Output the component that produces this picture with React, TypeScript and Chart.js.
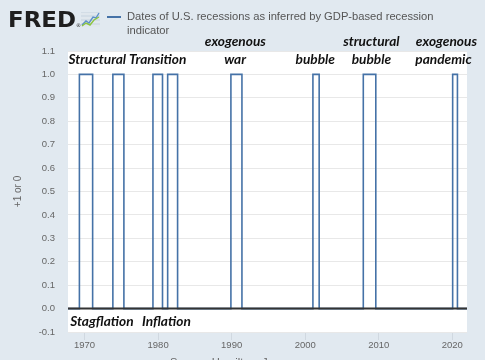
import React, { useEffect, useRef } from 'react';
import { Chart, registerables } from 'chart.js';

Chart.register(...registerables);

// Recession indicator: value holds from each transition date until the next one
const transitionYears = [1967.75, 1969.3, 1971.1, 1973.85, 1975.35, 1979.3, 1980.6, 1981.3, 1982.65, 1989.9, 1991.4, 2001.05, 2001.9, 2007.9, 2009.6, 2020.05, 2020.7, 2022.0];
const transitionValues = [0, 1, 0, 1, 0, 1, 0, 1, 0, 1, 0, 1, 0, 1, 0, 1, 0, 0];

const xTickYears = [1970, 1980, 1990, 2000, 2010, 2020];
const yTickValues = [-0.1, 0, 0.1, 0.2, 0.3, 0.4, 0.5, 0.6, 0.7, 0.8, 0.9, 1.0, 1.1];

const seriesLabel = 'Dates of U.S. recessions as inferred by GDP-based recession indicator';
const titleLines = ['Dates of U.S. recessions as inferred by GDP-based recession', 'indicator'];
const yAxisTitle = '+1 or 0';
const sourceText = 'Source: Hamilton, James';

// annotation texts with the year they are centered on
const topRowTexts = ['exogenous', 'structural', 'exogenous'];
const topRowYears = [1990.5, 2009.0, 2019.2];
const secondRowTexts = ['war', 'bubble', 'bubble', 'pandemic'];
const secondRowYears = [1990.47, 2001.37, 2009.0, 2018.8];
const leftTopText = 'Structural Transition';
const bottomTexts = ['Stagflation', 'Inflation'];
const bottomYears = [1968.05, 1977.81];

const BG = '#e1e9f0';
const LINE = '#4572A7';
const ANN_FONT = 'italic bold 13.7px Lato, "Open Sans", sans-serif';

const decorPlugin = {
  id: 'decor',
  beforeDraw(chart: any) {
    const { ctx, chartArea } = chart;
    ctx.save();
    ctx.fillStyle = BG;
    ctx.fillRect(0, 0, chart.width, chart.height);
    ctx.fillStyle = '#ffffff';
    ctx.fillRect(chartArea.left, chartArea.top, chartArea.right - chartArea.left, chartArea.bottom - chartArea.top);
    ctx.restore();
  },
  afterDatasetsDraw(chart: any) {
    const { ctx, chartArea, scales } = chart;
    const y0 = scales.y.getPixelForValue(0);
    ctx.save();
    ctx.strokeStyle = '#333333';
    ctx.lineWidth = 2;
    ctx.beginPath();
    ctx.moveTo(chartArea.left, y0);
    ctx.lineTo(chartArea.right, y0);
    ctx.stroke();
    ctx.restore();
  },
  afterDraw(chart: any) {
    const { ctx, chartArea, scales } = chart;
    const xs = scales.x;
    ctx.save();
    // FRED logo
    ctx.fillStyle = '#1f1f1f';
    ctx.font = 'bold 21px "DejaVu Sans", sans-serif';
    ctx.textBaseline = 'alphabetic';
    ctx.textAlign = 'left';
    const w = ctx.measureText('FRED').width;
    ctx.save();
    ctx.translate(8, 26.7);
    ctx.scale(68 / w, 1);
    ctx.fillText('FRED', 0, 0);
    ctx.restore();
    ctx.font = '5px "DejaVu Sans", sans-serif';
    ctx.fillText('®', 76, 27);
    // icon
    ctx.fillStyle = '#d3dde6';
    ctx.fillRect(81, 12, 19, 15);
    ctx.strokeStyle = '#ffffff';
    ctx.lineWidth = 0.6;
    for (let i = 0; i < 4; i++) {
      ctx.beginPath();
      ctx.moveTo(81, 14 + i * 4);
      ctx.lineTo(100, 14 + i * 4);
      ctx.stroke();
    }
    ctx.lineWidth = 1.4;
    ctx.strokeStyle = '#5b8fc9';
    ctx.beginPath();
    ctx.moveTo(82, 25); ctx.lineTo(86, 21); ctx.lineTo(89, 23); ctx.lineTo(93, 17); ctx.lineTo(96, 18); ctx.lineTo(99, 13);
    ctx.stroke();
    ctx.strokeStyle = '#8cc43f';
    ctx.beginPath();
    ctx.moveTo(82, 26); ctx.lineTo(86, 23); ctx.lineTo(90, 25); ctx.lineTo(94, 20); ctx.lineTo(99, 17);
    ctx.stroke();

    // legend line + title
    ctx.strokeStyle = LINE;
    ctx.lineWidth = 2;
    ctx.beginPath();
    ctx.moveTo(107, 17);
    ctx.lineTo(121, 17);
    ctx.stroke();
    ctx.fillStyle = '#555555';
    ctx.font = '11.2px "Liberation Sans", Arial, sans-serif';
    ctx.textBaseline = 'middle';
    ctx.fillText(titleLines[0], 127, 17);
    ctx.fillText(titleLines[1], 127, 31);

    // source (cut off at bottom)
    ctx.fillStyle = '#666666';
    ctx.textBaseline = 'alphabetic';
    ctx.fillText(sourceText, 170, 366);

    // annotations
    ctx.fillStyle = '#111111';
    ctx.font = ANN_FONT;
    ctx.textBaseline = 'alphabetic';
    ctx.textAlign = 'center';
    topRowTexts.forEach((t, i) => ctx.fillText(t, xs.getPixelForValue(topRowYears[i]), 46));
    secondRowTexts.forEach((t, i) => ctx.fillText(t, xs.getPixelForValue(secondRowYears[i]), 64));
    ctx.textAlign = 'left';
    ctx.fillText(leftTopText, chartArea.left + 0.5, 64);
    bottomTexts.forEach((t, i) => ctx.fillText(t, xs.getPixelForValue(bottomYears[i]), 326));
    ctx.restore();
  },
};

export default function App() {
  const ref = useRef<HTMLCanvasElement>(null);
  useEffect(() => {
    const chart = new Chart(ref.current as HTMLCanvasElement, {
      type: 'line',
      data: {
        datasets: [
          {
            label: seriesLabel,
            data: transitionYears.map((x, i) => ({ x, y: transitionValues[i] })),
            stepped: 'before',
            borderColor: LINE,
            borderWidth: 1.6,
            pointRadius: 0,
            fill: false,
          },
        ],
      },
      options: {
        animation: false,
        responsive: false,
        devicePixelRatio: 1,
        layout: { padding: { top: 51, right: 18, left: 0, bottom: 0 } },
        plugins: { legend: { display: false }, tooltip: { enabled: false } },
        scales: {
          x: {
            type: 'linear',
            min: 1967.75,
            max: 2022.0,
            afterBuildTicks: (s: any) => { s.ticks = xTickYears.map((v) => ({ value: v })); },
            afterFit: (s: any) => { s.height = 28; },
            border: { display: false },
            grid: { drawOnChartArea: false, drawTicks: true, tickLength: 8, color: '#d0d8e0' },
            ticks: {
              padding: 0,
              color: '#666666',
              font: { family: '"Liberation Sans", Arial, sans-serif', size: 9.5 },
              callback: (v: any) => String(v),
              maxRotation: 0,
            },
          },
          y: {
            min: -0.1,
            max: 1.1,
            afterBuildTicks: (s: any) => { s.ticks = yTickValues.map((v) => ({ value: v })); },
            afterFit: (s: any) => { s.width = 68; },
            border: { display: false },
            grid: { drawTicks: false, color: '#e8e8e8', lineWidth: 1 },
            title: {
              display: true,
              text: yAxisTitle,
              color: '#666666',
              font: { family: '"Liberation Sans", Arial, sans-serif', size: 10 },
              padding: { top: 12, bottom: 0 },
            },
            ticks: {
              padding: 13,
              color: '#666666',
              font: { family: '"Liberation Sans", Arial, sans-serif', size: 9.5 },
              callback: (v: any) => Number(v).toFixed(1),
            },
          },
        },
      },
      plugins: [decorPlugin],
    } as any);
    return () => chart.destroy();
  }, []);
  return (
    <div style={{ position: 'fixed', left: 0, top: 0, width: 485, height: 360, background: BG }}>
      <canvas ref={ref} width={485} height={360} style={{ display: 'block' }} />
    </div>
  );
}
